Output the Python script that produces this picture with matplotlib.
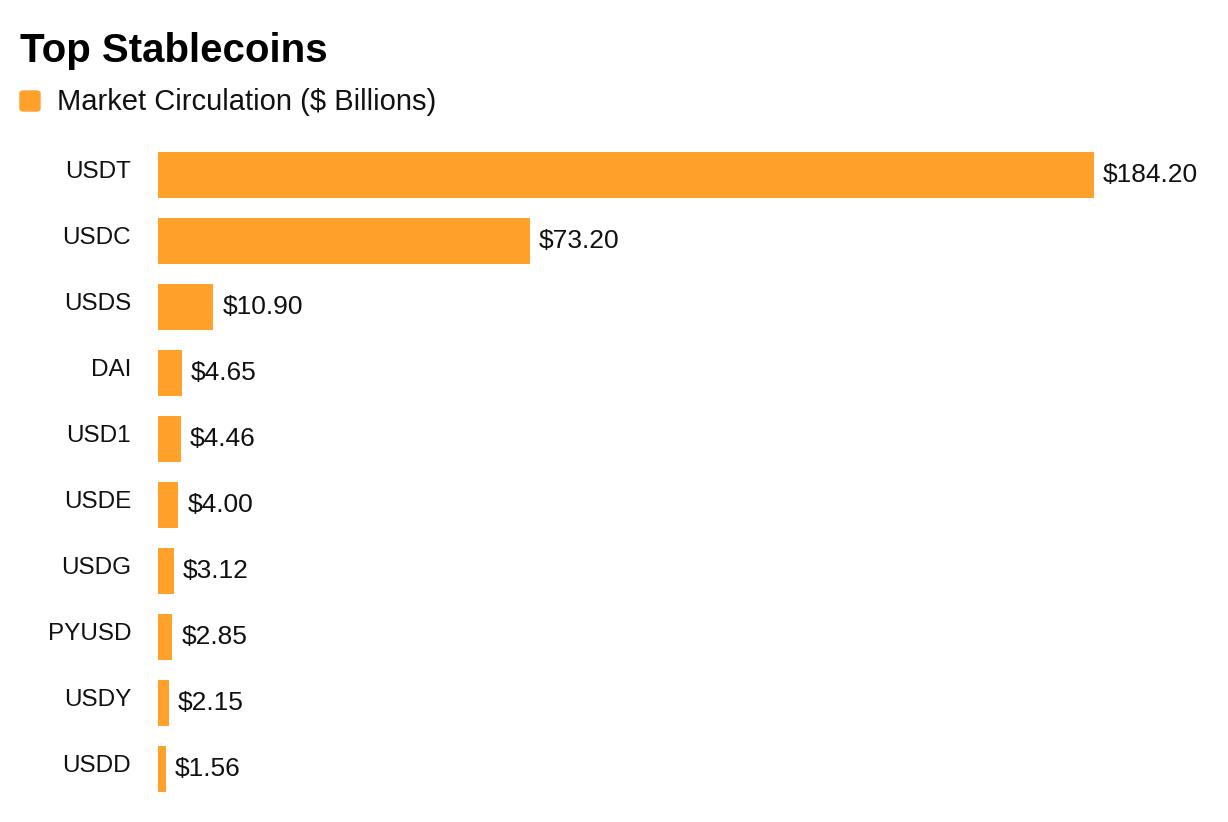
import matplotlib.pyplot as plt
from matplotlib.patches import FancyBboxPatch

plt.rcParams['font.family'] = ['Liberation Sans', 'DejaVu Sans']

coins = ['USDT', 'USDC', 'USDS', 'DAI', 'USD1', 'USDE', 'USDG', 'PYUSD', 'USDY', 'USDD']
values = [184.20, 73.20, 10.90, 4.65, 4.46, 4.00, 3.12, 2.85, 2.15, 1.56]
orange = '#FFA12B'
ink = '#111111'

W, H = 1228, 822
fig = plt.figure(figsize=(W / 100, H / 100), dpi=100)
ax = fig.add_axes([158 / W, 1 - 802 / H, 1 - 158 / W, 660 / H])

y = list(range(len(coins)))
ax.barh(y, values, height=0.7, color=orange)
ax.set_ylim(len(coins) - 0.5, -0.5)
ax.set_xlim(0, 210.6)
ax.set_xticks([])
ax.set_yticks([])
for s in ax.spines.values():
    s.set_visible(False)

# category names, right aligned left of the axis (px -> pt is *0.72)
for i, c in enumerate(coins):
    ax.annotate(c, (0, i), xytext=(-27 * 0.72, -3.3 * 0.72), textcoords='offset points',
                va='baseline', ha='right', fontsize=17.5, color=ink, annotation_clip=False)

for i, v in enumerate(values):
    ax.annotate(f'${v:.2f}', (v, i), xytext=(9 * 0.72, -7.3 * 0.72), textcoords='offset points',
                va='baseline', ha='left', fontsize=19, color=ink)

fig.text(20 / W, 1 - 62 / H, 'Top Stablecoins', fontsize=29, fontweight='bold',
         va='baseline', ha='left', color='black')
sq = FancyBboxPatch((20 / W, 1 - 111 / H), 20 / W, 20 / H,
                    boxstyle='round,pad=0,rounding_size=0.003', transform=fig.transFigure,
                    color=orange, figure=fig)
fig.patches.append(sq)
fig.text(57 / W, 1 - 110 / H, 'Market Circulation ($ Billions)', fontsize=21,
         va='baseline', ha='left', color=ink)

fig.savefig('out.png', dpi=100)
